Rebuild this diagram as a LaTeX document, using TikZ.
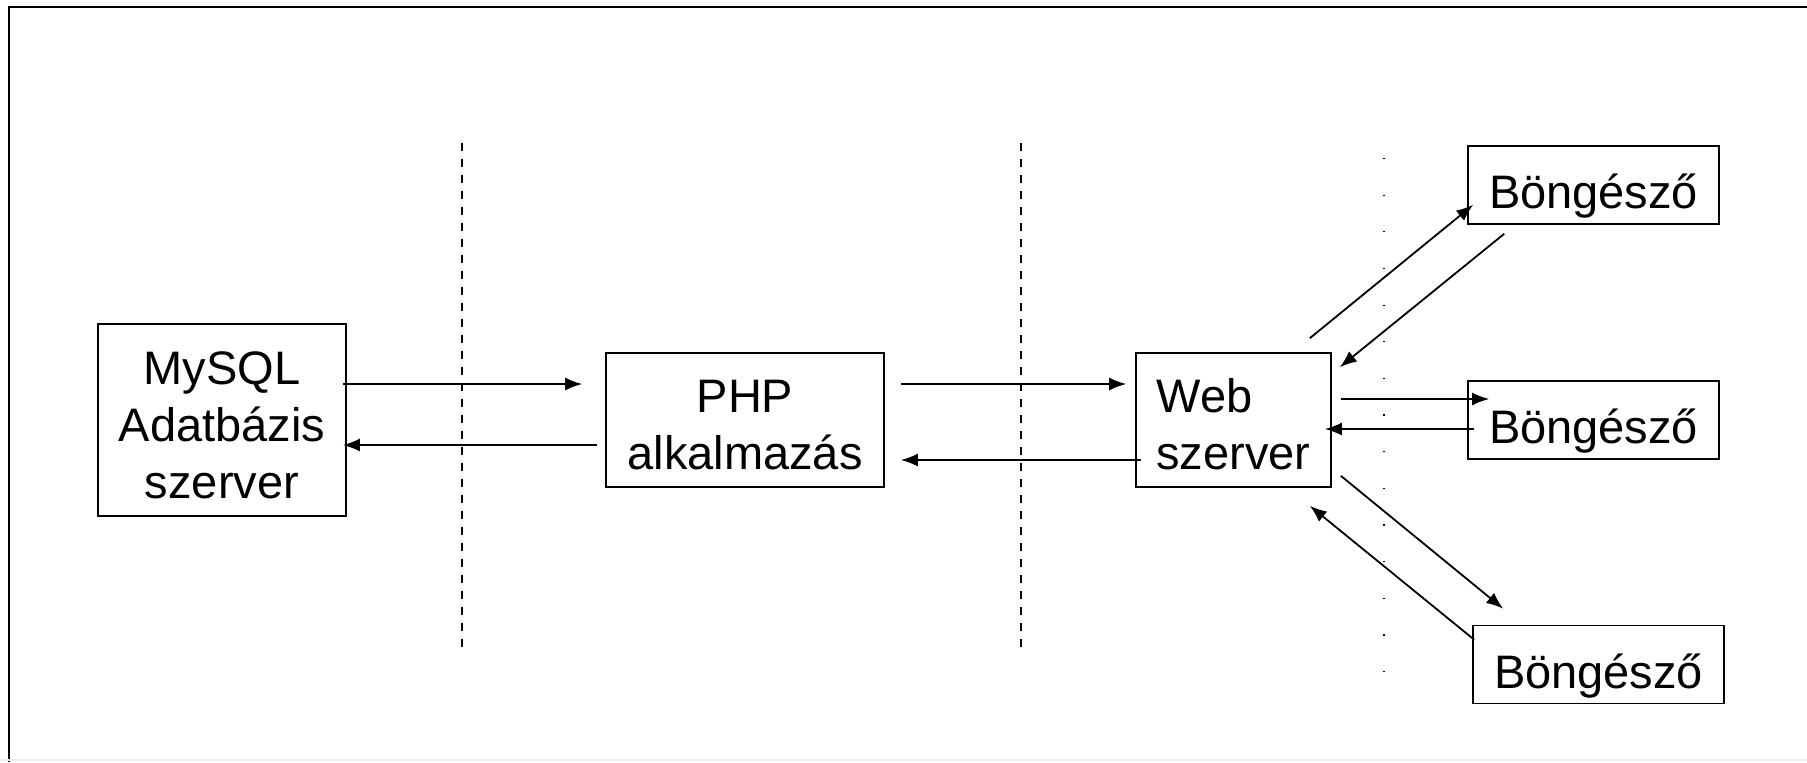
\documentclass[tikz,border=0pt]{standalone}
\usepackage{fontspec}
\setmainfont{Liberation Sans}
\usepackage{tikz}
\usetikzlibrary{arrows.meta, positioning}

\newcommand{\topgap}{\rule{0pt}{21.5pt}}

\tikzset{
	box/.style={draw, line width=0.8pt, inner sep=0pt, align=center,
		font=\fontsize{23.5}{28.5}\selectfont},
	browser/.style={box, minimum width=125.5pt, minimum height=39pt,
		text height=23.5pt, text depth=0pt},
	flow/.style={-{Latex[length=8.5pt,width=6.5pt]}, line width=0.9pt},
}

\begin{document}
\begin{tikzpicture}[x=0.5pt, y=-0.5pt]
				\useasboundingbox (0,0) rectangle (1807,762);
				% frame
				\draw[line width=1.3pt] (9,762) |- (1807,7);
				\draw[gray!15, line width=1pt] (0,760)--(1807,760);
				
				% separators
				\draw[dash pattern=on 4pt off 4pt, line width=0.7pt] (462,143)--(462,651);
				\draw[dash pattern=on 4pt off 4pt, line width=0.7pt] (1021,143)--(1021,651);
				\draw[dash pattern=on 0.6pt off 17.72pt, line width=0.7pt] (1384,158)--(1384,672);
				
				\node[box, minimum width=124pt, minimum height=96pt] (mysql) at (222,420)
				{\topgap MySQL\\Adatbázis\\szerver};
				\node[box, minimum width=139pt, minimum height=67pt] (php) at (745,420)
				{\topgap PHP\\alkalmazás};
				\node[box, align=left, minimum width=97.5pt, minimum height=67pt] (web) at (1233.5,420)
				{\topgap Web\\szerver};
				\node[browser] (b1) at (1593.5,185) {Böngésző};
				\node[browser] (b2) at (1593.5,420) {Böngésző};
				\node[browser] (b3) at (1598.5,664.5) {Böngésző};
				
				\draw[flow] ([xshift=-2pt,yshift=18pt]mysql.east)--([xshift=-11.5pt,yshift=18pt]php.west);
				\draw[flow] ([xshift=-4pt,yshift=-12.5pt]php.west)--([xshift=-2pt,yshift=-12.5pt]mysql.east);
				
				\draw[flow] ([xshift=8pt,yshift=18pt]php.east)--([xshift=-4.5pt,yshift=18pt]web.west);
				\draw[flow] ([xshift=3pt,yshift=-20pt]web.west)--([xshift=8pt,yshift=-20pt]php.east);
				
				\draw[flow] ([xshift=-11pt,yshift=7pt]web.north east)--([xshift=3pt,yshift=10pt]b1.south west);
				\draw[flow] ([xshift=18.5pt,yshift=-4.5pt]b1.south west)--([xshift=4pt,yshift=-7.5pt]web.north east);
				
				\draw[flow] ([xshift=4.5pt,yshift=10.5pt]web.east)--([xshift=11pt,yshift=10.5pt]b2.west);
				\draw[flow] ([xshift=3.5pt,yshift=-4.5pt]b2.west)--([xshift=-3.5pt,yshift=-4.5pt]web.east);
				
				\draw[flow] ([xshift=4.5pt,yshift=6pt]web.south east)--([xshift=15.5pt,yshift=8pt]b3.north west);
				\draw[flow] ([xshift=1pt,yshift=-7.5pt]b3.north west)--([xshift=-11pt,yshift=-9pt]web.south east);
			\end{tikzpicture}
\end{document}
